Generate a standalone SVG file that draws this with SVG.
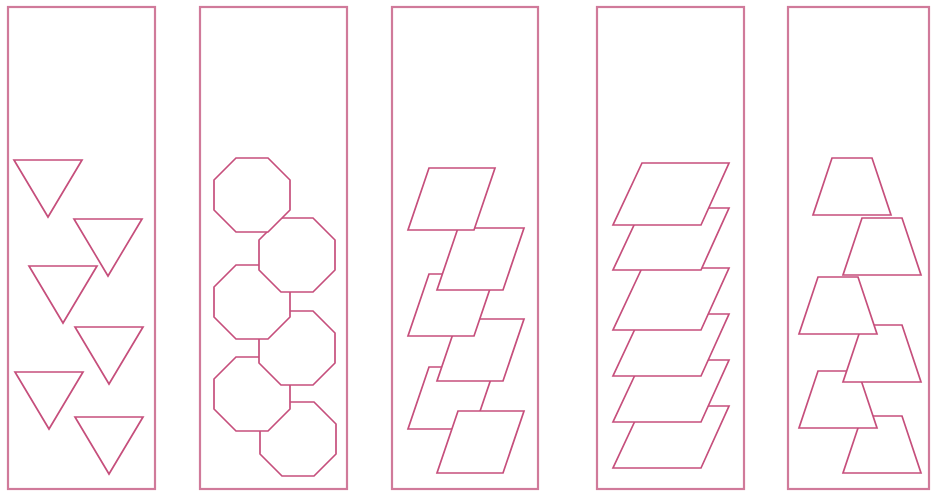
<svg xmlns="http://www.w3.org/2000/svg" xmlns:xlink="http://www.w3.org/1999/xlink" width="932" height="493" viewBox="0 0 932 493">
  <style>
    .frame { fill: #ffffff; stroke: #d07a9a; stroke-width: 2.2; }
    .shape { fill: #ffffff; stroke: #c64f7c; stroke-width: 1.7; stroke-linejoin: miter; }
  </style>
  <defs>
    <polygon id="tri" points="0,0 68,0 34,57"/>
    <polygon id="oct" points="22,0 54,0 76,22 76,52 54,74 22,74 0,52 0,22"/>
    <polygon id="para1" points="21,0 87,0 66,62 0,62"/>
    <polygon id="para2" points="29,0 116,0 88,62 0,62"/>
    <polygon id="trap" points="19,0 59,0 78,57 0,57"/>
  </defs>
  <rect width="932" height="493" fill="#ffffff"/>

  <g id="panel1">
    <rect class="frame" x="8" y="7" width="147" height="482"/>
    <g id="tri1"><use xlink:href="#tri" class="shape" x="14" y="160"/></g>
    <g id="tri2"><use xlink:href="#tri" class="shape" x="74" y="219"/></g>
    <g id="tri3"><use xlink:href="#tri" class="shape" x="29" y="266"/></g>
    <g id="tri4"><use xlink:href="#tri" class="shape" x="75" y="327"/></g>
    <g id="tri5"><use xlink:href="#tri" class="shape" x="15" y="372"/></g>
    <g id="tri6"><use xlink:href="#tri" class="shape" x="75" y="417"/></g>
  </g>

  <g id="panel2">
    <rect class="frame" x="200" y="7" width="147" height="482"/>
    <g id="oct6"><use xlink:href="#oct" class="shape" x="260" y="402"/></g>
    <g id="oct5"><use xlink:href="#oct" class="shape" x="214" y="357"/></g>
    <g id="oct4"><use xlink:href="#oct" class="shape" x="259" y="311"/></g>
    <g id="oct3"><use xlink:href="#oct" class="shape" x="214" y="265"/></g>
    <g id="oct2"><use xlink:href="#oct" class="shape" x="259" y="218"/></g>
    <g id="oct1"><use xlink:href="#oct" class="shape" x="214" y="158"/></g>
  </g>

  <g id="panel3">
    <rect class="frame" x="392" y="7" width="146" height="482"/>
    <g id="par5"><use xlink:href="#para1" class="shape" x="408" y="367"/></g>
    <g id="par6"><use xlink:href="#para1" class="shape" x="437" y="411"/></g>
    <g id="par4"><use xlink:href="#para1" class="shape" x="437" y="319"/></g>
    <g id="par3"><use xlink:href="#para1" class="shape" x="408" y="274"/></g>
    <g id="par2"><use xlink:href="#para1" class="shape" x="437" y="228"/></g>
    <g id="par1"><use xlink:href="#para1" class="shape" x="408" y="168"/></g>
  </g>

  <g id="panel4">
    <rect class="frame" x="597" y="7" width="147" height="482"/>
    <g id="q6"><use xlink:href="#para2" class="shape" x="613" y="406"/></g>
    <g id="q5"><use xlink:href="#para2" class="shape" x="613" y="360"/></g>
    <g id="q4"><use xlink:href="#para2" class="shape" x="613" y="314"/></g>
    <g id="q3"><use xlink:href="#para2" class="shape" x="613" y="268"/></g>
    <g id="q2"><use xlink:href="#para2" class="shape" x="613" y="208"/></g>
    <g id="q1"><use xlink:href="#para2" class="shape" x="613" y="163"/></g>
  </g>

  <g id="panel5">
    <rect class="frame" x="788" y="7" width="141" height="482"/>
    <g id="trap6"><use xlink:href="#trap" class="shape" x="843" y="416"/></g>
    <g id="trap5"><use xlink:href="#trap" class="shape" x="799" y="371"/></g>
    <g id="trap4"><use xlink:href="#trap" class="shape" x="843" y="325"/></g>
    <g id="trap3"><use xlink:href="#trap" class="shape" x="799" y="277"/></g>
    <g id="trap2"><use xlink:href="#trap" class="shape" x="843" y="218"/></g>
    <g id="trap1"><use xlink:href="#trap" class="shape" x="813" y="158"/></g>
  </g>

  <g id="connectors"/>
</svg>
